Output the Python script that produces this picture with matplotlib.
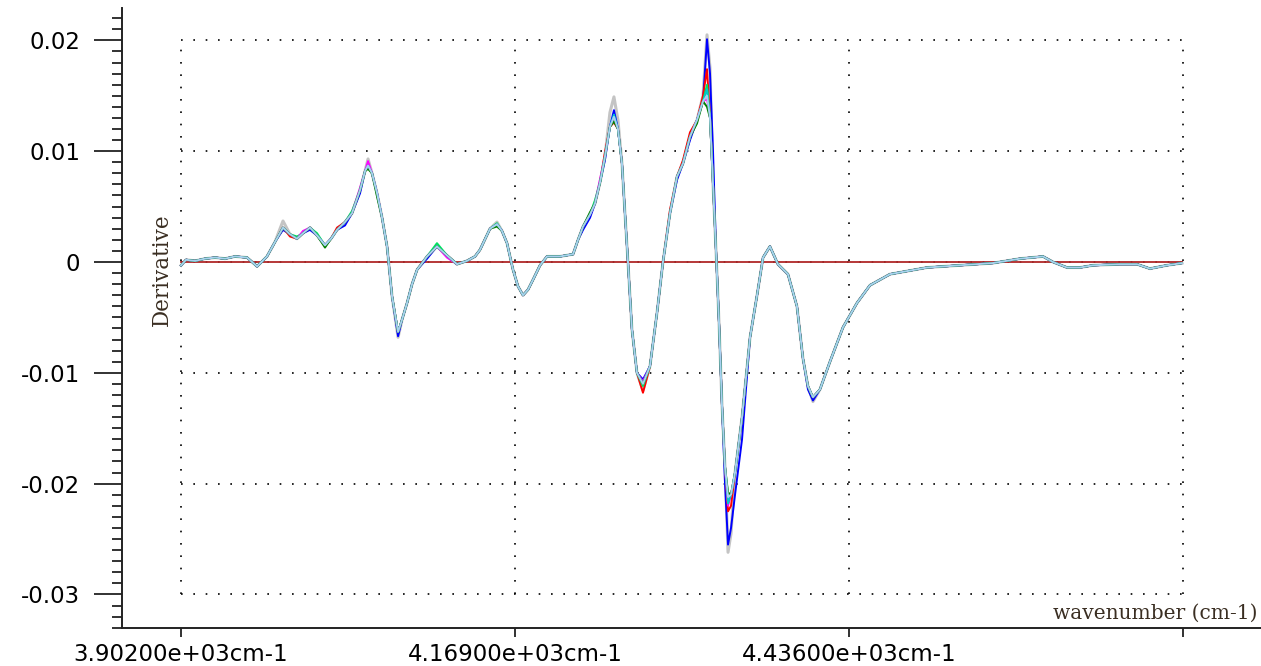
import matplotlib.pyplot as plt
from matplotlib.ticker import MultipleLocator, FixedLocator

# 波数 (cm-1)
wavenumber = [
    3902.0, 3906.0, 3913.2, 3921.2, 3929.2, 3937.2, 3945.2, 3954.8, 3962.8, 3970.7,
    3977.1, 3983.5, 3989.1, 3994.7, 3999.5, 4005.1, 4010.7, 4017.1, 4021.9, 4026.7,
    4033.1, 4038.7, 4045.1, 4049.1, 4051.5, 4054.7, 4058.7, 4062.7, 4066.7, 4070.7,
    4075.5, 4078.7, 4082.7, 4086.7, 4090.7, 4098.7, 4106.6, 4114.6, 4122.6, 4130.6,
    4137.0, 4141.0, 4149.0, 4154.6, 4158.6, 4162.6, 4167.4, 4171.4, 4175.4, 4179.4,
    4183.4, 4189.0, 4194.6, 4205.0, 4215.4, 4219.4, 4223.4, 4229.0, 4233.0, 4237.0,
    4240.9, 4244.9, 4248.1, 4251.3, 4254.5, 4256.9, 4259.3, 4262.5, 4266.5, 4271.3,
    4276.9, 4282.5, 4287.3, 4292.9, 4298.5, 4303.3, 4308.9, 4314.5, 4319.3, 4322.5,
    4324.9, 4327.3, 4329.7, 4332.1, 4334.5, 4336.9, 4339.3, 4341.7, 4344.9, 4350.5,
    4356.9, 4362.5, 4367.3, 4372.8, 4379.2, 4387.2, 4394.4, 4399.2, 4403.2, 4407.2,
    4412.8, 4420.8, 4431.2, 4442.4, 4452.8, 4468.8, 4498.4, 4524.7, 4551.1, 4572.7,
    4591.1, 4599.1, 4610.3, 4620.7, 4631.1, 4652.6, 4666.2, 4676.6, 4690.2, 4702.2,
]

# 平均导数光谱
deriv_mean = [
    -0.0003, 0.0002, 0.0001, 0.0003, 0.0004, 0.0003, 0.0005, 0.0004, -0.0004, 0.0005,
    0.0018, 0.0031, 0.0025, 0.0021, 0.0026, 0.0031, 0.0024, 0.0015, 0.0021, 0.0029,
    0.0036, 0.0044, 0.0065, 0.0082, 0.0087, 0.0080, 0.0062, 0.0040, 0.0014, -0.0031,
    -0.0063, -0.0052, -0.0037, -0.0020, -0.0007, 0.0005, 0.0014, 0.0006, -0.0002, 0.0001,
    0.0005, 0.0011, 0.0030, 0.0034, 0.0028, 0.0017, -0.0007, -0.0022, -0.0030, -0.0025,
    -0.0016, -0.0003, 0.0005, 0.0005, 0.0007, 0.0020, 0.0032, 0.0043, 0.0053, 0.0072,
    0.0095, 0.0122, 0.0131, 0.0120, 0.0089, 0.0044, 0.0000, -0.0061, -0.0100, -0.0110,
    -0.0094, -0.0046, 0.0000, 0.0044, 0.0077, 0.0089, 0.0113, 0.0128, 0.0145, 0.0152,
    0.0130, 0.0070, 0.0010, -0.0055, -0.0130, -0.0185, -0.0215, -0.0210, -0.0190, -0.0140,
    -0.0068, -0.0030, 0.0004, 0.0014, -0.0002, -0.0011, -0.0040, -0.0087, -0.0112, -0.0122,
    -0.0115, -0.0090, -0.0059, -0.0037, -0.0021, -0.0011, -0.0005, -0.0003, -0.0001, 0.0003,
    0.0005, 0.0000, -0.0005, -0.0005, -0.0003, -0.0002, -0.0002, -0.0006, -0.0003, -0.0001,
]

# 参考基线
baseline = [0.0] * len(wavenumber)

# 各样本颜色, 以及与平均光谱不同的值 (波数: 导数)
sample_colors = ['#c4c4c4', '#0000ff', '#ff0000', '#00e060', '#ff00ff',
                 '#00c8c8', '#008000', '#a8d0f0']
sample_peaks = [
    {3983.5: 0.0037, 4051.5: 0.0093, 4075.5: -0.0068, 4154.6: 0.0036, 4244.9: 0.0135,
     4248.1: 0.0149, 4251.3: 0.0128, 4271.3: -0.0116, 4319.3: 0.0150, 4322.5: 0.0205,
     4324.9: 0.0175, 4339.3: -0.0262, 4341.7: -0.0245, 4407.2: -0.0126},
    {3983.5: 0.0029, 4005.1: 0.0029, 4033.1: 0.0033, 4045.1: 0.0062, 4051.5: 0.0088,
     4075.5: -0.0067, 4098.7: 0.0003, 4223.4: 0.0029, 4229.0: 0.0040, 4240.9: 0.0092,
     4248.1: 0.0137, 4271.3: -0.0106, 4298.5: 0.0074, 4308.9: 0.0110, 4319.3: 0.0145,
     4322.5: 0.0201, 4324.9: 0.0170, 4327.3: 0.0100, 4336.9: -0.0200, 4339.3: -0.0255,
     4341.7: -0.0240, 4344.9: -0.0210, 4350.5: -0.0160, 4403.2: -0.0115, 4407.2: -0.0125},
    {3989.1: 0.0023, 4026.7: 0.0031, 4051.5: 0.0086, 4240.9: 0.0099, 4248.1: 0.0126,
     4271.3: -0.0118, 4292.9: 0.0047, 4303.3: 0.0092, 4308.9: 0.0117, 4319.3: 0.0150,
     4322.5: 0.0174, 4339.3: -0.0225, 4341.7: -0.0220},
    {3994.7: 0.0023, 4010.7: 0.0026, 4038.7: 0.0046, 4106.6: 0.0017, 4154.6: 0.0035,
     4233.0: 0.0056, 4248.1: 0.0128, 4271.3: -0.0112, 4322.5: 0.0160, 4339.3: -0.0210},
    {3999.5: 0.0028, 4045.1: 0.0067, 4051.5: 0.0091, 4114.6: 0.0004, 4237.0: 0.0075,
     4248.1: 0.0130, 4271.3: -0.0108, 4322.5: 0.0147, 4339.3: -0.0220},
    {4248.1: 0.0133, 4322.5: 0.0156, 4339.3: -0.0218},
    {4017.1: 0.0013, 4051.5: 0.0084, 4058.7: 0.0059, 4154.6: 0.0032, 4229.0: 0.0045,
     4248.1: 0.0127, 4314.5: 0.0125, 4322.5: 0.0140, 4339.3: -0.0208},
    {4322.5: 0.0150, 4339.3: -0.0212},
]

x_ticks = [3902, 4169, 4436, 4703]
x_tick_labels = ['3.90200e+03cm-1', '4.16900e+03cm-1', '4.43600e+03cm-1', '']
y_ticks = [-0.03, -0.02, -0.01, 0, 0.01, 0.02]
y_tick_labels = ['-0.03', '-0.02', '-0.01', '0', '0.01', '0.02']

fig = plt.figure(figsize=(12.61, 6.66), dpi=100)
ax = fig.add_axes([122 / 1261, 38 / 666, 1139 / 1261, 620 / 666])

# 虚线网格, 只画在数据框内
dots = (0, (1, 6.4))
ax.hlines(y_ticks, x_ticks[0], x_ticks[-1], colors='black', linestyles=dots, linewidth=1.2, zorder=1)
ax.vlines(x_ticks, y_ticks[0], y_ticks[-1], colors='black', linestyles=dots, linewidth=1.2, zorder=1)

# 画每个样本的导数光谱
for i, (color, peaks) in enumerate(zip(sample_colors, sample_peaks)):
    values = list(deriv_mean)
    for w, v in peaks.items():
        values[wavenumber.index(w)] = v
    ax.plot(wavenumber, values, color=color, linewidth=2.2 if i == 0 else 1.4,
            solid_joinstyle='round', zorder=2 + i)
    if i == 0:
        ax.plot(wavenumber, baseline, color='#b02828', linewidth=1.3, zorder=2.5)

ax.set_xlim(3854.8, 4765.4)
ax.set_ylim(-0.03303, 0.02292)

ax.xaxis.set_major_locator(FixedLocator(x_ticks))
ax.set_xticklabels(x_tick_labels)
ax.yaxis.set_major_locator(FixedLocator(y_ticks))
ax.set_yticklabels(y_tick_labels)
ax.yaxis.set_minor_locator(MultipleLocator(0.001))

for lab in ax.get_xticklabels() + ax.get_yticklabels():
    lab.set_fontfamily('DejaVu Sans')
    lab.set_fontsize(16.5)
    lab.set_color('black')

ax.tick_params(axis='y', which='major', length=20, width=1.3, pad=10, color='#222222')
ax.tick_params(axis='y', which='minor', length=7, width=1.3, color='#222222')
ax.tick_params(axis='x', which='major', length=6.5, width=1.3, pad=4, color='#222222')

for side in ['top', 'right']:
    ax.spines[side].set_visible(False)
for side in ['left', 'bottom']:
    ax.spines[side].set_linewidth(1.4)
    ax.spines[side].set_color('#222222')

# 坐标轴标题
ax.text(3902 - 15, -0.0007, 'Derivative', rotation=90, ha='center', va='center',
        fontfamily='DejaVu Serif', fontsize=15.5, color='#3a2e22')
ax.text(4763, -0.0317, 'wavenumber (cm-1)', ha='right', va='center',
        fontfamily='DejaVu Serif', fontsize=14.5, color='#3a2e22')

plt.savefig('out.png', dpi=100)
